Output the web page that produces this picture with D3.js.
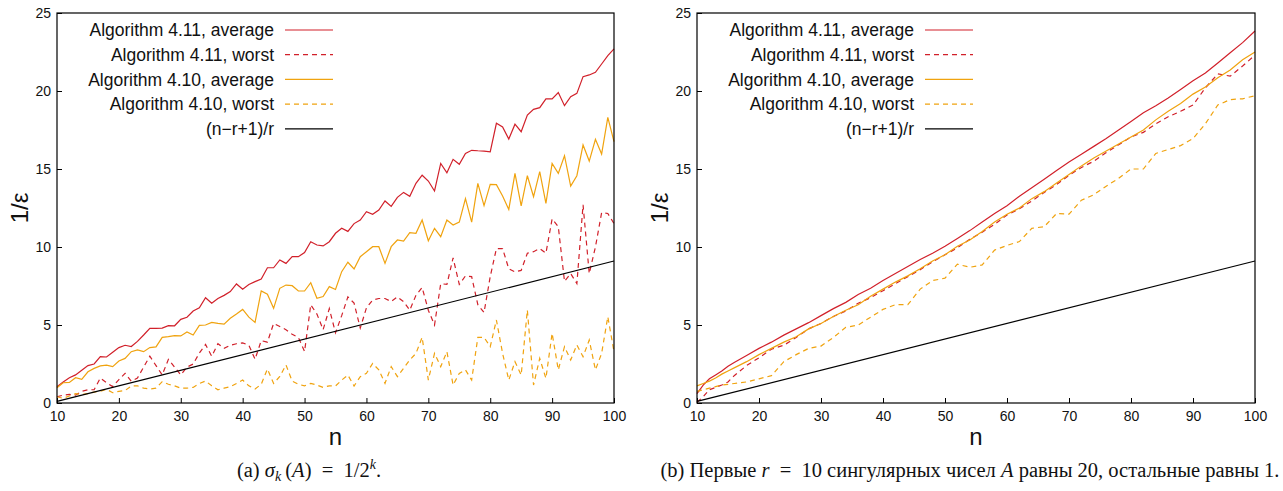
<!DOCTYPE html>
<html lang="ru">
<head>
<meta charset="UTF-8"/>
<title>1/ε от n</title>
<script src="https://cdn.jsdelivr.net/npm/d3@7"></script>
<style>
	body {margin: 0; background: #fff;}
	svg text {font-family: 'Liberation Sans', Arial, sans-serif; fill: #111;}
	.caption {font-family: 'Liberation Serif', 'Times New Roman', serif; font-size: 20.5px;}
</style>
</head>
<body>
<svg id="chart" width="1283" height="491"></svg>
<script>
// ---- data, left panel (a): n = 10..100 step 1
const nLeft = d3.range(10, 101);
const avg411a = [1.05, 1.35, 1.62, 1.8, 2.1, 2.4, 2.5, 2.97, 2.95, 3.25, 3.55, 3.7, 3.62, 3.95, 4.36, 4.79, 4.79, 4.8, 4.96, 4.95,
	5.36, 5.5, 5.9, 6.1, 6.75, 6.4, 6.7, 6.9, 7.14, 7.63, 7.3, 7.6, 7.78, 7.95, 8.67, 8.67, 9.17, 8.95, 9.38, 9.38,
	9.64, 10.34, 10.13, 10.07, 10.34, 10.88, 11.2, 11.0, 11.5, 11.73, 12.26, 12.1, 12.37, 12.95, 12.6, 13.18, 13.5, 13.25, 14.08, 14.6,
	14.23, 13.59, 15.36, 14.76, 15.62, 15.3, 16.0, 16.2, 16.17, 16.15, 16.1, 17.93, 17.7, 16.92, 17.87, 17.39, 18.46, 18.82, 18.93, 19.49,
	19.5, 19.9, 19.06, 19.64, 19.85, 20.92, 21.03, 21.2, 21.73, 22.27, 22.7];
const worst411a = [0.4, 0.5, 0.55, 0.5, 0.75, 0.85, 0.85, 1.6, 1.3, 1.05, 1.5, 1.9, 1.4, 1.6, 2.3, 3.0, 2.4, 1.8, 2.8, 2.3,
	1.8, 2.3, 2.5, 3.2, 3.75, 3.0, 3.8, 3.5, 3.7, 3.8, 3.85, 3.7, 2.8, 4.0, 3.9, 5.1, 4.9, 4.7, 4.4, 4.2,
	3.3, 6.3, 5.7, 4.7, 6.05, 4.5, 5.6, 6.8, 6.4, 4.8, 6.1, 6.6, 6.7, 6.7, 6.5, 6.8, 6.5, 5.95, 6.9, 7.4,
	5.95, 5.0, 7.65, 7.6, 9.3, 7.6, 8.15, 8.1, 6.3, 5.8, 8.1, 9.9, 9.9, 8.6, 8.4, 8.5, 9.6, 9.7, 9.9, 9.6,
	11.8, 11.3, 7.8, 8.3, 7.65, 12.7, 8.3, 10.0, 12.2, 12.15, 11.5];
const avg410a = [0.98, 1.3, 1.32, 1.62, 1.52, 2.0, 2.22, 2.38, 2.43, 2.33, 2.69, 2.86, 3.29, 3.4, 3.29, 3.55, 3.6, 4.21, 4.25, 4.32,
	4.3, 4.55, 4.36, 4.98, 5.0, 5.17, 5.1, 5.06, 5.43, 5.7, 6.0, 5.5, 5.17, 7.18, 6.97, 6.07, 7.35, 7.56, 7.52, 7.18,
	7.18, 7.71, 6.71, 6.82, 7.46, 7.28, 8.42, 9.02, 8.59, 9.38, 9.7, 10.02, 10.02, 8.95, 10.02, 10.45, 10.38, 10.92, 10.88, 11.73,
	10.4, 11.2, 10.66, 11.73, 11.41, 11.6, 13.1, 11.6, 14.08, 12.65, 14.02, 14.0, 13.27, 12.41, 14.72, 12.63, 14.57, 13.22, 14.83, 12.8,
	15.36, 14.72, 15.85, 13.91, 14.57, 16.54, 15.51, 16.9, 15.96, 18.31, 16.75];
const worst410a = [0.4, 0.3, 0.45, 0.6, 0.55, 0.6, 0.7, 0.75, 0.88, 0.66, 0.75, 0.8, 1.09, 1.1, 0.95, 0.9, 0.95, 1.37, 1.2, 1.1,
	0.95, 0.95, 1.0, 1.25, 1.41, 1.1, 0.85, 0.95, 1.05, 1.25, 1.47, 1.1, 0.9, 1.2, 2.18, 1.25, 1.7, 2.44, 1.4, 1.2,
	1.1, 1.25, 1.15, 1.0, 1.1, 1.09, 1.47, 1.79, 1.09, 1.69, 1.9, 2.54, 2.12, 1.26, 2.33, 1.69, 2.22, 2.76, 3.18, 4.21,
	1.47, 3.18, 2.33, 3.29, 1.15, 1.9, 2.12, 1.47, 4.21, 4.21, 3.61, 5.32, 3.18, 1.47, 2.65, 1.79, 5.96, 1.15, 2.86, 1.58,
	4.47, 2.12, 3.61, 2.76, 3.72, 2.97, 4.04, 2.12, 3.18, 5.53, 3.29];

// ---- data, right panel (b)
const nRight = [10, 11, 12, 13, 14, 15, 16, 18, 20, 22, 24, 26, 28, 30, 32, 34, 36, 38, 40, 42, 44, 46, 48, 50, 52,
	54, 56, 58, 60, 62, 64, 66, 68, 70, 72, 74, 76, 78, 80, 82, 84, 86, 88, 90, 92, 94, 96, 98, 100];
const avg411b = [0.6, 1.15, 1.55, 1.8, 2.05, 2.35, 2.6, 3.05, 3.5, 3.9, 4.35, 4.75, 5.15, 5.6, 6.05, 6.45, 6.95, 7.35, 7.85, 8.3,
	8.75, 9.2, 9.6, 10.05, 10.55, 11.05, 11.6, 12.15, 12.65, 13.25, 13.8, 14.35, 14.9, 15.45, 15.95, 16.45, 16.95, 17.5, 18.05, 18.6,
	19.05, 19.55, 20.1, 20.65, 21.15, 21.8, 22.45, 23.1, 23.85];
const worst411b = [0.05, 0.4, 0.85, 1.0, 1.15, 1.35, 1.75, 2.4, 2.9, 3.45, 3.7, 4.2, 4.75, 5.1, 5.55, 5.9, 6.4, 6.75, 7.2, 7.65,
	8.1, 8.55, 9.05, 9.5, 9.95, 10.5, 10.95, 11.45, 12.05, 12.45, 12.95, 13.5, 14.0, 14.6, 15.1, 15.5, 16.05, 16.55, 17.05, 17.35,
	17.9, 18.35, 18.7, 19.1, 20.2, 21.1, 20.95, 21.6, 22.3];
const avg410b = [1.1, 1.25, 1.4, 1.6, 1.85, 2.05, 2.25, 2.65, 3.1, 3.5, 3.9, 4.25, 4.75, 5.1, 5.55, 5.95, 6.3, 6.85, 7.3, 7.75,
	8.15, 8.6, 9.1, 9.5, 10.05, 10.45, 11.0, 11.6, 12.1, 12.5, 13.1, 13.55, 14.1, 14.65, 15.2, 15.7, 16.15, 16.6, 17.05, 17.5,
	18.15, 18.7, 19.2, 19.8, 20.25, 20.85, 21.35, 22.0, 22.5];
const worst410b = [0.75, 0.85, 0.95, 1.05, 1.15, 1.2, 1.25, 1.35, 1.55, 1.75, 2.65, 3.1, 3.5, 3.65, 4.2, 4.85, 5.0, 5.5, 6.0, 6.3,
	6.3, 7.3, 7.85, 8.0, 8.9, 8.7, 8.85, 9.8, 10.1, 10.35, 11.2, 11.3, 12.15, 12.1, 13.0, 13.35, 13.9, 14.4, 15.0, 15.0,
	16.0, 16.25, 16.5, 16.95, 17.9, 19.1, 19.45, 19.5, 19.7];

// (n-r+1)/r, r = 10 : straight line, read at the ends
const refN = [10, 100];
const refVal = [0.1, 9.1];

const legendLabels = ['Algorithm 4.11, average', 'Algorithm 4.11, worst', 'Algorithm 4.10, average', 'Algorithm 4.10, worst', '(n\u2212r+1)/r'];
const colors = ['#d1202a', '#d1202a', '#f0a30f', '#f0a30f', '#000000'];
const dashes = [null, '5,4', null, '5,4', null];
const xTicks = [10, 20, 30, 40, 50, 60, 70, 80, 90, 100];
const yTicks = [0, 5, 10, 15, 20, 25];

const svg = d3.select('#chart');
const plotTop = 13, plotBottom = 403;

const panels = [
	{left: 57, right: 614, n: nLeft, series: [avg411a, worst411a, avg410a, worst410a]},
	{left: 697, right: 1255, n: nRight, series: [avg411b, worst411b, avg410b, worst410b]}
];

panels.forEach(p => {
	const x = d3.scaleLinear().domain([10, 100]).range([p.left, p.right]);
	const y = d3.scaleLinear().domain([0, 25]).range([plotBottom, plotTop]);
	const g = svg.append('g');

	// axes with inward ticks
	const ax = g.append('g')
		.attr('transform', 'translate(0,' + plotBottom + ')')
		.call(d3.axisBottom(x).tickValues(xTicks).tickSizeInner(-5).tickSizeOuter(0).tickPadding(8));
	const ay = g.append('g')
		.attr('transform', 'translate(' + p.left + ',0)')
		.call(d3.axisLeft(y).tickValues(yTicks).tickSizeInner(-5).tickSizeOuter(0).tickPadding(6));
	[ax, ay].forEach(a => {
		a.select('.domain').remove();
		a.selectAll('text').style('font-size', '14px').style('font-family', "'Liberation Sans', Arial, sans-serif").attr('fill', '#111');
	});

	// lines
	const line = d3.line().x(d => x(d[0])).y(d => y(d[1]));
	p.series.forEach((s, i) => {
		g.append('path')
			.datum(p.n.map((n, j) => [n, s[j]]))
			.attr('d', line)
			.attr('fill', 'none')
			.attr('stroke', colors[i])
			.attr('stroke-width', 1.2)
			.attr('stroke-dasharray', dashes[i]);
	});
	g.append('path')
		.datum(refN.map((n, j) => [n, refVal[j]]))
		.attr('d', line)
		.attr('fill', 'none')
		.attr('stroke', colors[4])
		.attr('stroke-width', 1.2);

	// frame
	g.append('rect')
		.attr('x', p.left).attr('y', plotTop)
		.attr('width', p.right - p.left).attr('height', plotBottom - plotTop)
		.attr('fill', 'none').attr('stroke', '#000').attr('stroke-width', 1.2);

	// legend
	legendLabels.forEach((t, i) => {
		const ly = plotTop + 17 + i * 24.7;
		g.append('text')
			.attr('x', p.left + 217).attr('y', ly).attr('dy', '0.35em')
			.attr('text-anchor', 'end')
			.style('font-size', '17.5px')
			.text(t);
		g.append('line')
			.attr('x1', p.left + 228).attr('x2', p.left + 276)
			.attr('y1', ly).attr('y2', ly)
			.attr('stroke', colors[i]).attr('stroke-width', 1.2)
			.attr('stroke-dasharray', dashes[i]);
	});

	// axis titles
	g.append('text')
		.attr('x', (p.left + p.right) / 2).attr('y', 445)
		.attr('text-anchor', 'middle')
		.style('font-size', '24px')
		.text('n');
	g.append('text')
		.attr('transform', 'translate(' + (p.left - 29) + ',208) rotate(-90)')
		.attr('text-anchor', 'middle')
		.style('font-size', '24px')
		.text('1/ε');
});

// captions
const capA = svg.append('text').attr('class', 'caption').attr('x', 309).attr('y', 477).attr('text-anchor', 'middle');
capA.append('tspan').text('(a) ');
capA.append('tspan').style('font-style', 'italic').text('σ');
capA.append('tspan').style('font-style', 'italic').style('font-size', '14px').attr('dy', 4).text('k');
capA.append('tspan').attr('dy', -4).text('\u2009(');
capA.append('tspan').style('font-style', 'italic').text('A');
capA.append('tspan').text(')\u2002=\u20021/2');
capA.append('tspan').style('font-style', 'italic').style('font-size', '14px').attr('dy', -8).text('k');
capA.append('tspan').attr('dy', 8).text('.');

const capB = svg.append('text').attr('class', 'caption').attr('x', 970).attr('y', 477).attr('text-anchor', 'middle');
capB.append('tspan').text('(b) Первые ');
capB.append('tspan').style('font-style', 'italic').text('r');
capB.append('tspan').text('\u2002=\u200210 сингулярных чисел ');
capB.append('tspan').style('font-style', 'italic').text('A');
capB.append('tspan').text(' равны 20, остальные равны 1.');
</script>
</body>
</html>
